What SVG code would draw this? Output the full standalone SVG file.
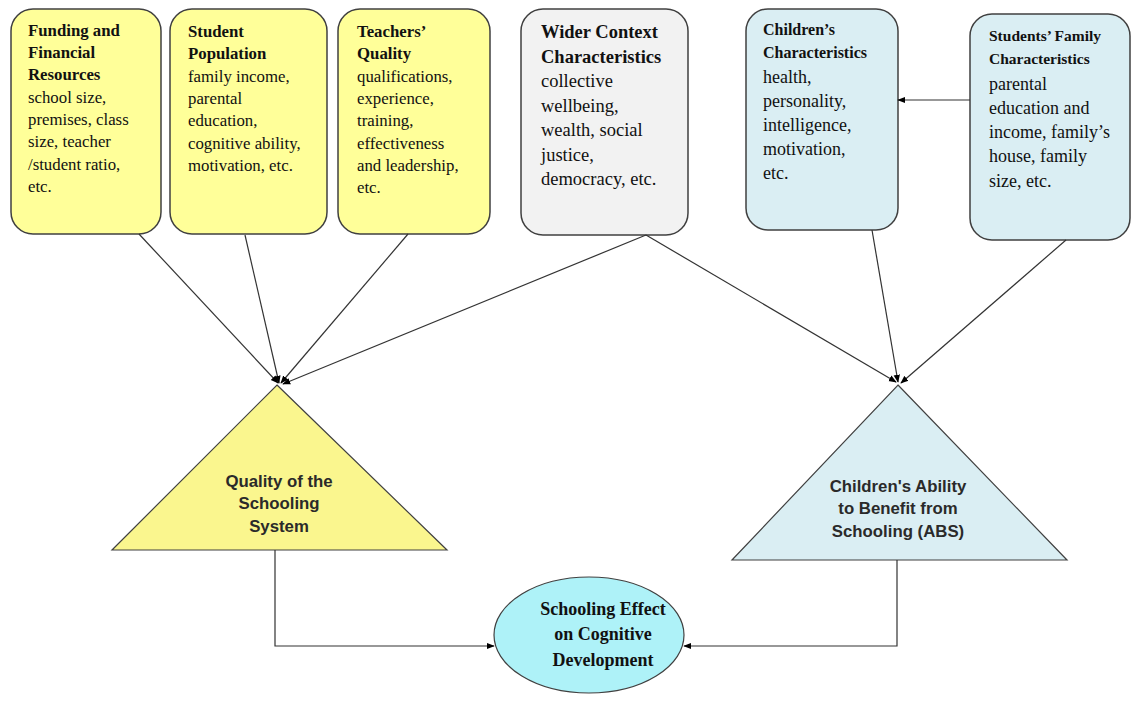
<svg xmlns="http://www.w3.org/2000/svg" width="1131" height="704" viewBox="0 0 1131 704">
<defs>
<marker id="ah" viewBox="0 0 10 10" refX="9" refY="5" markerWidth="8" markerHeight="8" markerUnits="userSpaceOnUse" orient="auto">
<path d="M0,1 L10,5 L0,9 z" fill="#000"/>
</marker>
<style>
.box{stroke:#404040;stroke-width:1.5}
.y{fill:#FFFF99}
.g{fill:#F2F2F2}
.b{fill:#DAEEF3}
.t{font-family:"Liberation Serif","Times New Roman",serif;fill:#111}
.h{font-weight:bold}
.a{font-family:"Liberation Sans",Arial,sans-serif;font-weight:bold;fill:#2a2a2a;text-anchor:middle}
.c{stroke:#333;stroke-width:1.2;fill:none;marker-end:url(#ah)}
</style>
</defs>
<rect width="1131" height="704" fill="#fff"/>

<g id="funding">
<rect class="box y" x="11" y="9" width="150" height="225" rx="22"/>
<text class="t" font-size="16.8" x="28"><tspan class="h" y="36">Funding and</tspan><tspan class="h" x="28" y="58">Financial</tspan><tspan class="h" x="28" y="80">Resources</tspan><tspan x="28" y="103">school size,</tspan><tspan x="28" y="125">premises, class</tspan><tspan x="28" y="147">size, teacher</tspan><tspan x="28" y="170">/student ratio,</tspan><tspan x="28" y="192">etc.</tspan></text>
</g>

<g id="student">
<rect class="box y" x="170" y="9" width="157" height="225" rx="22"/>
<text class="t" font-size="16.8" x="188"><tspan class="h" y="37">Student</tspan><tspan class="h" x="188" y="59">Population</tspan><tspan x="188" y="82">family income,</tspan><tspan x="188" y="104">parental</tspan><tspan x="188" y="126">education,</tspan><tspan x="188" y="149">cognitive ability,</tspan><tspan x="188" y="171">motivation, etc.</tspan></text>
</g>

<g id="teachers">
<rect class="box y" x="338" y="9" width="152" height="225" rx="22"/>
<text class="t" font-size="16.8" x="357"><tspan class="h" y="37">Teachers’</tspan><tspan class="h" x="357" y="59">Quality</tspan><tspan x="357" y="82">qualifications,</tspan><tspan x="357" y="104">experience,</tspan><tspan x="357" y="126">training,</tspan><tspan x="357" y="149">effectiveness</tspan><tspan x="357" y="171">and leadership,</tspan><tspan x="357" y="193">etc.</tspan></text>
</g>

<g id="wider">
<rect class="box g" x="521" y="9" width="167" height="226" rx="22"/>
<text class="t" font-size="18.5" x="541"><tspan class="h" y="38">Wider Context</tspan><tspan class="h" x="541" y="62.5">Characteristics</tspan><tspan x="541" y="87">collective</tspan><tspan x="541" y="111.5">wellbeing,</tspan><tspan x="541" y="136">wealth, social</tspan><tspan x="541" y="160.5">justice,</tspan><tspan x="541" y="185">democracy, etc.</tspan></text>
</g>

<g id="childrens">
<rect class="box b" x="746" y="9" width="152" height="221" rx="22"/>
<text class="t" x="763"><tspan class="h" font-size="16" y="35">Children’s</tspan><tspan class="h" font-size="16" x="763" y="58">Characteristics</tspan><tspan font-size="18" x="763" y="83">health,</tspan><tspan font-size="18" x="763" y="107">personality,</tspan><tspan font-size="18" x="763" y="131">intelligence,</tspan><tspan font-size="18" x="763" y="155">motivation,</tspan><tspan font-size="18" x="763" y="179">etc.</tspan></text>
</g>

<g id="family">
<rect class="box b" x="970" y="14" width="160" height="226" rx="22"/>
<text class="t" x="989"><tspan class="h" font-size="15.5" y="41">Students’ Family</tspan><tspan class="h" font-size="15.5" x="989" y="64">Characteristics</tspan><tspan font-size="18" x="989" y="90">parental</tspan><tspan font-size="18" x="989" y="114">education and</tspan><tspan font-size="18" x="989" y="138">income, family’s</tspan><tspan font-size="18" x="989" y="162">house, family</tspan><tspan font-size="18" x="989" y="187">size, etc.</tspan></text>
</g>

<g id="quality">
<polygon points="277,385 447,550 112,550" fill="#FAF68E" stroke="#404040" stroke-width="1.2"/>
<text class="a" font-size="16.8"><tspan x="279" y="487">Quality of the</tspan><tspan x="279" y="509">Schooling</tspan><tspan x="279" y="532">System</tspan></text>
</g>

<g id="abs">
<polygon points="898,385 1067,560 732,560" fill="#DAEEF3" stroke="#404040" stroke-width="1.2"/>
<text class="a" font-size="16.8"><tspan x="898" y="492">Children's Ability</tspan><tspan x="898" y="514">to Benefit from</tspan><tspan x="898" y="537">Schooling (ABS)</tspan></text>
</g>

<g id="effect">
<ellipse cx="589" cy="635" rx="95" ry="58" fill="#AEF2F8" stroke="#404040" stroke-width="1.2"/>
<text class="t h" font-size="18" text-anchor="middle"><tspan x="603" y="615">Schooling Effect</tspan><tspan x="603" y="640">on Cognitive</tspan><tspan x="603" y="666">Development</tspan></text>
</g>

<g id="connectors">
<line class="c" x1="139" y1="234" x2="278" y2="383"/>
<line class="c" x1="245" y1="235" x2="279" y2="383"/>
<line class="c" x1="408" y1="234" x2="281" y2="383"/>
<line class="c" x1="646" y1="235" x2="283" y2="384"/>
<line class="c" x1="646" y1="235" x2="896" y2="382"/>
<line class="c" x1="872" y1="230" x2="898" y2="382"/>
<line class="c" x1="1066" y1="240" x2="901" y2="383"/>
<line class="c" x1="970" y1="100" x2="898" y2="100"/>
<polyline class="c" points="275,550 275,646 494,646"/>
<polyline class="c" points="897,560 897,646 684,646"/>
</g>
</svg>
